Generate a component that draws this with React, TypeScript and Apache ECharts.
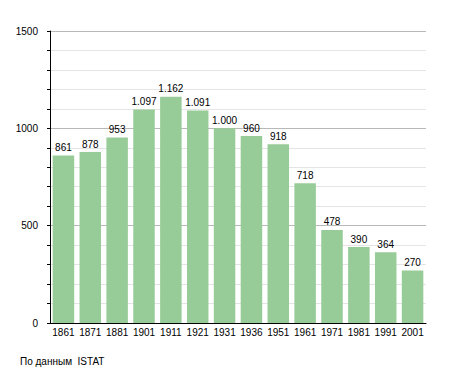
import React, { useEffect, useRef } from "react";
import * as echarts from "echarts";

const years = ["1861", "1871", "1881", "1901", "1911", "1921", "1931", "1936", "1951", "1961", "1971", "1981", "1991", "2001"];
const population = [861, 878, 953, 1097, 1162, 1091, 1000, 960, 918, 718, 478, 390, 364, 270];
const footerText = "По данным\u00a0\u00a0ISTAT";

const fmt = (v: number) => String(v).replace(/\B(?=(\d{3})+(?!\d))/g, ".");

export default function App() {
  const ref = useRef<HTMLDivElement>(null);
  useEffect(() => {
    if (!ref.current) return;
    const chart = echarts.init(ref.current, undefined, { renderer: "svg" });
    const font = "'Liberation Sans', Arial, sans-serif";
    chart.setOption({
      animation: false,
      textStyle: { fontFamily: font },
      grid: { left: 50, right: 29, top: 31, bottom: 50, containLabel: false },
      xAxis: {
        type: "category",
        data: years,
        axisLine: { show: true, lineStyle: { color: "#000", width: 1 } },
        axisTick: { show: false },
        axisLabel: { color: "#000", fontSize: 10, margin: 4, fontFamily: font, interval: 0 },
        splitLine: { show: false },
      },
      yAxis: {
        type: "value",
        min: 0,
        max: 1500,
        interval: 500,
        axisLine: { show: true, lineStyle: { color: "#000", width: 1 } },
        axisTick: { show: true, length: 3, lineStyle: { color: "#000" } },
        minorTick: { show: true, splitNumber: 5, length: 3, lineStyle: { color: "#000" } },
        axisLabel: { color: "#000", fontSize: 10, margin: 12, fontFamily: font, formatter: (v: number) => String(v) },
        splitLine: { show: true, lineStyle: { color: "#b8b8b8", width: 1 } },
        minorSplitLine: { show: true, lineStyle: { color: "#e4e4e4", width: 1 } },
      },
      series: [
        {
          type: "bar",
          data: population,
          barCategoryGap: "20%",
          itemStyle: { color: "#97cb97" },
          label: {
            show: true,
            position: "top",
            distance: 3,
            color: "#000",
            fontSize: 10,
            fontFamily: font,
            formatter: (p: any) => fmt(p.value),
          },
        },
      ],
      graphic: [
        {
          type: "text",
          left: 20,
          top: 356,
          style: { text: footerText, fontSize: 10, fill: "#000", fontFamily: font },
        },
      ],
    });
    return () => chart.dispose();
  }, []);
  return (
    <div
      ref={ref}
      style={{ position: "absolute", left: 0, top: 0, width: 455, height: 373, background: "#fff" }}
    />
  );
}
